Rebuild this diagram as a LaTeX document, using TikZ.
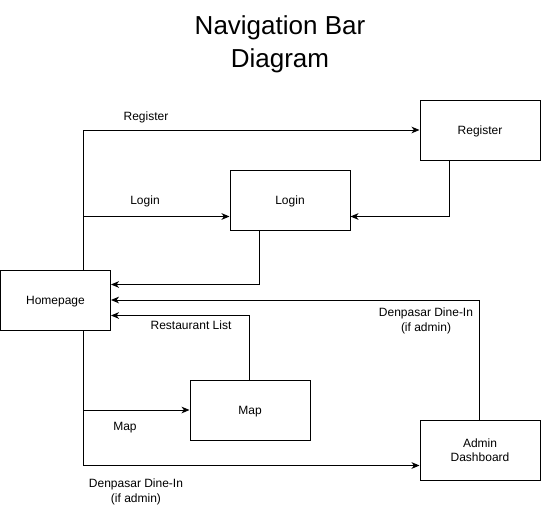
\documentclass[tikz,border=0pt]{standalone}
\usepackage{fontspec}
\setmainfont{Liberation Sans}
\usetikzlibrary{arrows.meta}

\begin{document}
\begin{tikzpicture}[x=0.75pt, y=-0.75pt,
    page/.style={draw, shape=rectangle, line width=0.75pt, minimum width=90pt,
      minimum height=45pt, inner sep=1pt, align=center, text depth=0pt,
      font=\fontsize{9}{10.5}\selectfont},
    lbl/.style={align=center, inner sep=0pt, text depth=0pt,
      font=\fontsize{9}{11.25}\selectfont},
    link/.style={-{Stealth[length=6pt,width=5pt,inset=1.8pt]}, line width=0.75pt}]
  \useasboundingbox (0,0) rectangle (541,510);
  \node (title) [align=center, text depth=0pt, font=\fontsize{19.5}{24.75}\selectfont] at (280,41.5) {Navigation Bar\\Diagram};
  % pages
  \node (home) [page, minimum width=82.5pt] at (55.5,300) {Homepage};
  \node (reg) [page] at (480,130) {Register};
  \node (login) [page] at (290,200) {Login};
  \node (map) [page] at (250,410) {Map};
  \node (adm) [page] at (480,450) {Admin\\Dashboard};
  % links out of the homepage
  \draw[link] ([xshift=21pt]home.north) |- (reg);
  \draw[link] ([xshift=21pt]home.north) |- ([yshift=10.5pt]login.south west);
  \draw[link] ([xshift=21pt]home.south) |- (map);
  \draw[link] ([xshift=21pt]home.south) |- ([yshift=11.25pt]adm.south west);
  % links back
  \draw[link] ([xshift=22.5pt]reg.south west) |- ([yshift=10.5pt]login.south east);
  \draw[link] ([xshift=22.5pt]login.south west) |- ([yshift=-11.25pt]home.north east);
  \draw[link] ([xshift=45pt]adm.north west) |- (home.east);
  \draw[link] ([xshift=45pt]map.north west) |- ([yshift=11.25pt]home.south east);
  % labels
  \node (lreg) [lbl] at (146,116) {Register};
  \node (llogin) [lbl] at (145,200) {Login};
  \node (lmap) [lbl] at (125,426) {Map};
  \node (ladm) [lbl] at (136,491) {Denpasar Dine-In\\(if admin)};
  \node (lrest) [lbl] at (191,325) {Restaurant List};
  \node (lback) [lbl] at (426,320) {Denpasar Dine-In\\(if admin)};
\end{tikzpicture}
\end{document}
